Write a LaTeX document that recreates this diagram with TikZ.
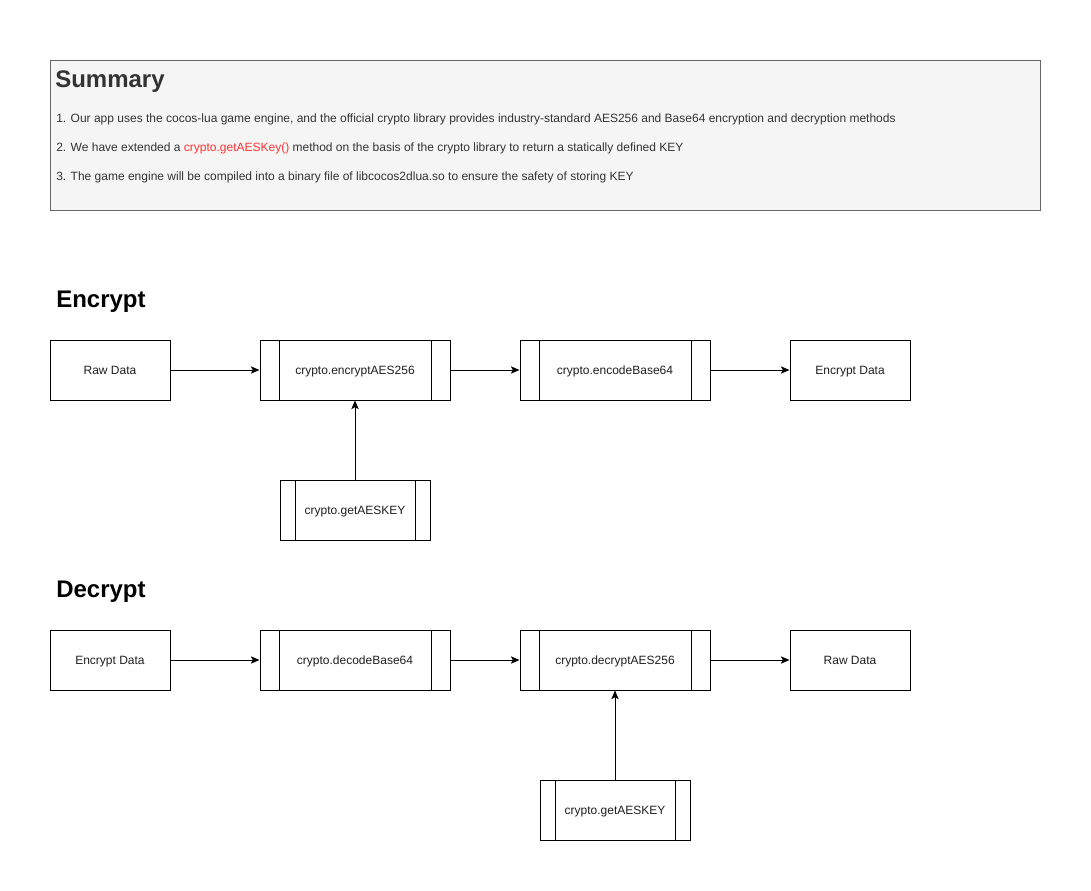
\documentclass[tikz,border=0pt]{standalone}
\usepackage{fontspec}
\setmainfont{Liberation Sans}
\usetikzlibrary{arrows.meta,calc}
\definecolor{sumfill}{HTML}{F5F5F5}
\definecolor{sumdraw}{HTML}{666666}
\definecolor{sumtext}{HTML}{333333}
\definecolor{keyred}{HTML}{FF3333}
\tikzset{
  box/.style={draw=black, line width=0.75pt, fill=white, inner sep=0pt, text height=8.5pt, text depth=2pt, font=\fontsize{9}{11}\selectfont, text=sumtext!60!black},
  plain/.style={box, minimum width=90pt, minimum height=45pt},
  proc/.style={box, minimum width=#1*0.75pt, minimum height=45pt,
    path picture={
      \draw[line width=0.75pt] ($(path picture bounding box.north west)+(#1*0.075pt,0)$) -- ($(path picture bounding box.south west)+(#1*0.075pt,0)$);
      \draw[line width=0.75pt] ($(path picture bounding box.north east)-(#1*0.075pt,0)$) -- ($(path picture bounding box.south east)-(#1*0.075pt,0)$);
    }},
  conn/.style={draw=black, line width=0.75pt, -{Stealth[length=6.5pt,width=5.5pt,inset=1.5pt]}},
  heading/.style={anchor=west, inner sep=0pt, font=\bfseries\fontsize{18}{20}\selectfont},
  sumline/.style={anchor=west, inner sep=0pt, text=sumtext, font=\fontsize{9}{11}\selectfont},
}
\begin{document}
\begin{tikzpicture}[x=0.75pt, y=-0.75pt]
\useasboundingbox (0,0) rectangle (1091,891);
% Summary
\node[draw=sumdraw, fill=sumfill, line width=0.75pt, minimum width=742.5pt, minimum height=112.5pt, anchor=north west, inner sep=0pt] (summary) at (50,60) {};
\node[anchor=west, inner sep=0pt, text=sumtext, font=\bfseries\fontsize{18}{20}\selectfont] (sumtitle) at (55,82) {Summary};
\node[sumline] (l1) at (56,119) {1. Our app uses the cocos-lua game engine, and the official crypto library provides industry-standard AES256 and Base64 encryption and decryption methods};
\node[sumline] (l2) at (56,148) {2. We have extended a \textcolor{keyred}{crypto.getAESKey()} method on the basis of the crypto library to return a statically defined KEY};
\node[sumline] (l3) at (56,177) {3. The game engine will be compiled into a binary file of libcocos2dlua.so to ensure the safety of storing KEY};
% Encrypt
\node[heading] (enchead) at (56,302) {Encrypt};
\node[plain] (eraw) at (110,370) {Raw Data};
\node[proc=190] (eaes) at (355,370) {crypto.encryptAES256};
\node[proc=190] (eb64) at (615,370) {crypto.encodeBase64};
\node[plain] (eout) at (850,370) {Encrypt Data};
\node[proc=150] (ekey) at (355,510) {crypto.getAESKEY};
\draw[conn] (eraw) -- (eaes);
\draw[conn] (eaes) -- (eb64);
\draw[conn] (eb64) -- (eout);
\draw[conn] (ekey) -- (eaes);
% Decrypt
\node[heading] (dechead) at (56,592) {Decrypt};
\node[plain] (draw) at (110,660) {Encrypt Data};
\node[proc=190] (db64) at (355,660) {crypto.decodeBase64};
\node[proc=190] (daes) at (615,660) {crypto.decryptAES256};
\node[plain] (dout) at (850,660) {Raw Data};
\node[proc=150] (dkey) at (615,810) {crypto.getAESKEY};
\draw[conn] (draw) -- (db64);
\draw[conn] (db64) -- (daes);
\draw[conn] (daes) -- (dout);
\draw[conn] (dkey) -- (daes);
\end{tikzpicture}
\end{document}
